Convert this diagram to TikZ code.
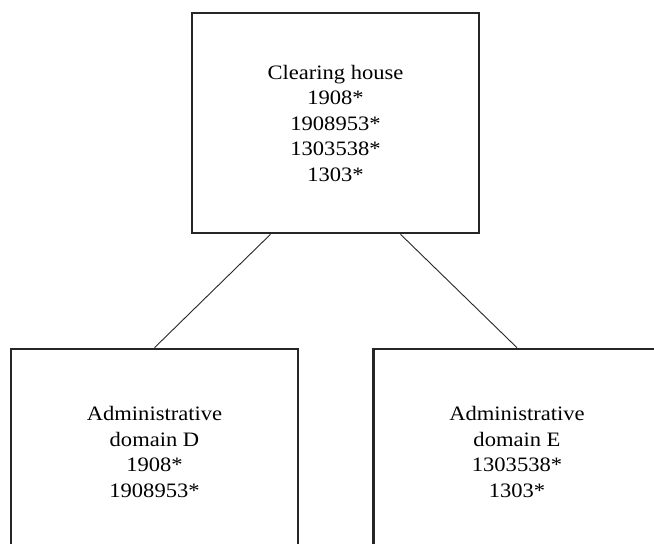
\documentclass[tikz,border=0pt]{standalone}
\usepackage{fontspec}
\setmainfont{Liberation Serif}[FakeStretch=1.1]
\begin{document}
\begin{tikzpicture}[x=1pt,y=-1pt,
  entity/.style={draw=black!85, line width=2.6pt, rectangle, inner sep=0pt,
    minimum width=287pt, align=center,
    font=\fontsize{20.5}{25.5}\selectfont},
  link/.style={draw=black!85, line width=0.9pt}]
  \useasboundingbox (0,0) rectangle (654,544);
  \clip (0,0) rectangle (654,544);
  % root
  \node[entity, minimum height=220pt] (ch) at (335.5,123)
    {Clearing house\\1908*\\1908953*\\1303538*\\1303*};
  % the two domains
  \node[entity, minimum height=206pt] (dd) at (154.5,452)
    {Administrative\\domain D\\1908*\\1908953*};
  \node[entity, minimum height=206pt] (de) at (517,452)
    {Administrative\\domain E\\1303538*\\1303*};
  % links
  \draw[link] ([xshift=-65pt]ch.south) -- (dd.north);
  \draw[link] ([xshift=65pt]ch.south) -- (de.north);
\end{tikzpicture}
\end{document}
